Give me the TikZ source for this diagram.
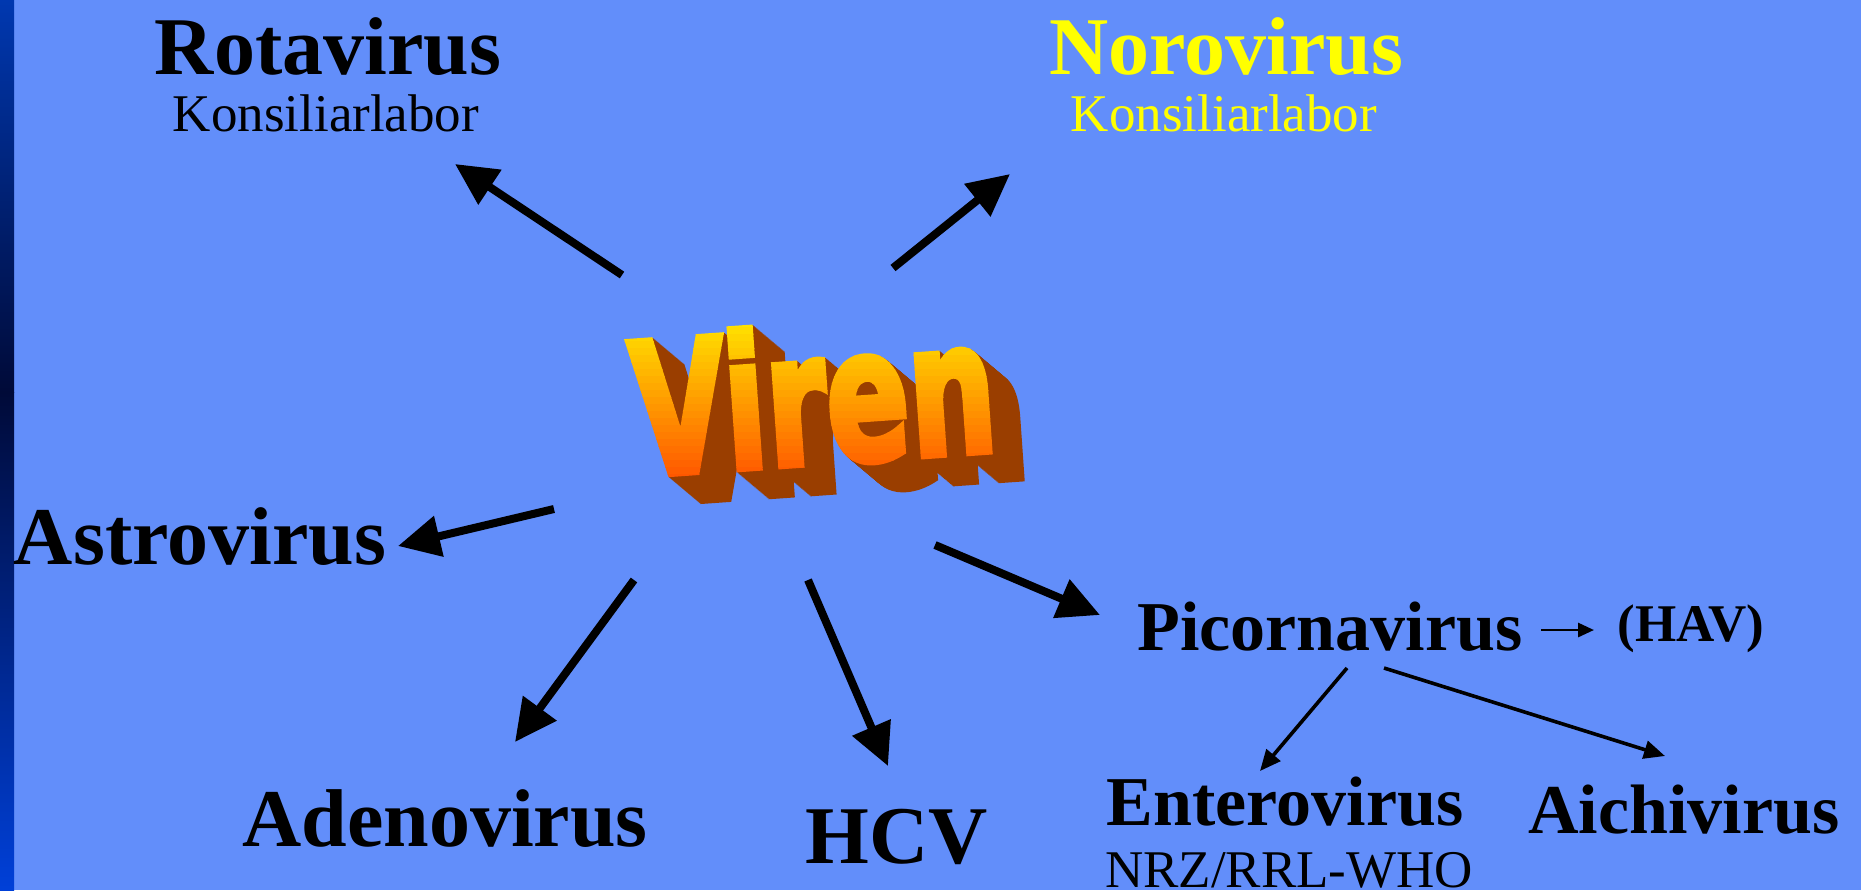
\documentclass[tikz,border=0pt]{standalone}
\usepackage{fontspec}
\setmainfont{Liberation Serif}
\newfontfamily\virenfont{DejaVu Sans}[BoldFeatures={FakeBold=4}]
\usetikzlibrary{arrows.meta}
\definecolor{slide}{HTML}{628EFA}
\definecolor{barTop}{HTML}{0038B0}
\definecolor{barMid}{HTML}{000A38}
\definecolor{barBot}{HTML}{0040D8}
\definecolor{noroYellow}{HTML}{FFFF00}
\definecolor{virenTop}{HTML}{FFE200}
\definecolor{virenBot}{HTML}{FF4A00}
\definecolor{virenSide}{HTML}{9A3E00}

\begin{document}
\begin{tikzpicture}[x=0.5pt,y=-0.5pt,
  big/.style={font=\fontsize{41}{41}\selectfont\bfseries,anchor=base,inner sep=0pt},
  mid/.style={font=\fontsize{35}{35}\selectfont\bfseries,anchor=base,inner sep=0pt},
  small/.style={font=\fontsize{26.5}{26.5}\selectfont,anchor=base,inner sep=0pt},
  bigarrow/.style={line width=4pt,-{Triangle[length=21pt,width=20pt]}},
  thinarrow/.style={line width=1.8pt,-{Triangle[length=10.5pt,width=9pt]}},
  wordart/.style={font=\virenfont\bfseries\fontsize{61}{61}\selectfont,anchor=base,rotate=4,yscale=1.5,inner sep=0pt}]

\useasboundingbox (0,0) rectangle (1861,890);
\fill[slide] (0,0) rectangle (1861,890);
\shade[top color=barTop,bottom color=barMid] (0,0) rectangle (14,392);
\shade[top color=barMid,bottom color=barBot] (0,392) rectangle (14,890);

\coordinate (vc) at (818,463);
\foreach \k in {32,31,...,1}
  \node[xshift=\k*0.5pt,yshift=-\k*0.42pt,wordart,text=virenSide] (vx\k) at (vc) {Viren};
\foreach \i in {0,...,24}{
  \pgfmathsetmacro\p{100*\i/24}
  \begin{scope}
    \clip (580,320+\i*7) rectangle (1050,327+\i*7);
    \node[wordart,text=virenBot!\p!virenTop] (vs\i) at (vc) {Viren};
  \end{scope}}

\node[big] (rota) at (328,74) {Rotavirus};
\node[small] (rotalab) at (326,131) {Konsiliarlabor};
\node[big,text=noroYellow] (noro) at (1226,74) {Norovirus};
\node[small,text=noroYellow] (norolab) at (1224,131) {Konsiliarlabor};
\node[big] (astro) at (200,564) {Astrovirus};
\node[big] (adeno) at (445,846) {Adenovirus};
\node[big] (hcv) at (897,863) {HCV};
\node[mid] (picorna) at (1330,650) {Picornavirus};
\node[font=\fontsize{26.5}{26.5}\selectfont\bfseries,anchor=base,inner sep=0pt] (hav) at (1691,641) {(HAV)};
\node[mid] (entero) at (1285,825) {Enterovirus};
\node[small] (nrz) at (1289,887) {NRZ/RRL-WHO};
\node[mid] (aichi) at (1684,833) {Aichivirus};

\coordinate (a1) at (622,275); \coordinate (b1) at (455,164);
\coordinate (a2) at (893,268); \coordinate (b2) at (1010,174);
\coordinate (a3) at (554,509); \coordinate (b3) at (398,546);
\coordinate (a4) at (634,580); \coordinate (b4) at (515,742);
\coordinate (a5) at (808,580); \coordinate (b5) at (888,766);
\coordinate (a6) at (935,545); \coordinate (b6) at (1100,615);
\coordinate (a7) at (1347,668); \coordinate (b7) at (1260,771);
\coordinate (a8) at (1384,668); \coordinate (b8) at (1665,756);
\coordinate (a9) at (1541,630); \coordinate (b9) at (1594,630);

\draw[bigarrow] (a1) -- (b1);
\draw[bigarrow] (a2) -- (b2);
\draw[bigarrow] (a3) -- (b3);
\draw[bigarrow] (a4) -- (b4);
\draw[bigarrow] (a5) -- (b5);
\draw[bigarrow] (a6) -- (b6);
\draw[thinarrow] (a7) -- (b7);
\draw[thinarrow] (a8) -- (b8);
\draw[line width=1.4pt,-{Triangle[length=8pt,width=7pt]}] (a9) -- (b9);
\end{tikzpicture}
\end{document}
